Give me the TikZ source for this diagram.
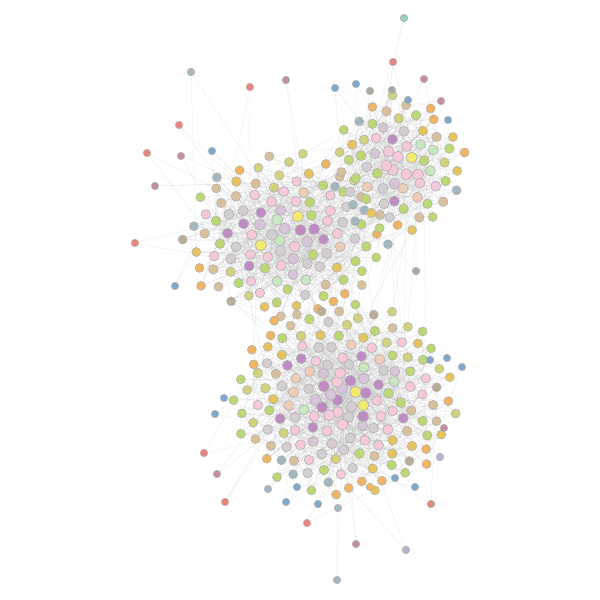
\documentclass[tikz,border=0pt]{standalone}
\usepackage{tikz}
\usetikzlibrary{backgrounds}

\definecolor{pinkn}{HTML}{F6C8DC}
\definecolor{purn}{HTML}{BE8CC2}
\definecolor{lavn}{HTML}{D8C4D8}
\definecolor{greyn}{HTML}{D4CDD2}
\definecolor{mintn}{HTML}{C8E8C0}
\definecolor{yelln}{HTML}{F4EA70}
\definecolor{limen}{HTML}{BCD872}
\definecolor{olivn}{HTML}{D2D27C}
\definecolor{tann}{HTML}{D8C09C}
\definecolor{peachn}{HTML}{EDCDB8}
\definecolor{orangn}{HTML}{F0B462}
\definecolor{goldn}{HTML}{E6C45C}
\definecolor{redn}{HTML}{E8847C}
\definecolor{bluen}{HTML}{80A8CC}
\definecolor{grayn}{HTML}{A8AAA0}
\definecolor{mauven}{HTML}{C48E9C}
\definecolor{tealn}{HTML}{92CEC4}
\definecolor{bluegr}{HTML}{A2B8C0}
\definecolor{lavblue}{HTML}{B4B2D2}
\definecolor{stonen}{HTML}{BAAE98}

\pgfmathdeclarerandomlist{core}{{pinkn}{pinkn}{purn}{purn}{lavn}{lavn}{greyn}{mintn}{yelln}{pinkn}}
\pgfmathdeclarerandomlist{mid}{{pinkn}{pinkn}{pinkn}{lavn}{greyn}{greyn}{peachn}{mintn}{limen}{purn}}
\pgfmathdeclarerandomlist{outer}{{limen}{limen}{limen}{olivn}{tann}{greyn}{pinkn}{goldn}}
\pgfmathdeclarerandomlist{rim}{{limen}{olivn}{orangn}{orangn}{goldn}{tann}{stonen}{bluegr}}

\begin{document}
\begin{tikzpicture}[x=0.02cm, y=-0.02cm,
    vert/.style={circle, draw=black!30, line width=0.35pt, inner sep=0pt},
    lnk/.style={draw=black!25, line width=0.1pt, opacity=0.5}
]
\pgfmathsetseed{7}
\useasboundingbox (0,0) rectangle (600,600);

% clusters laid out on a spiral, core first
\foreach \cl/\cx/\cy/\rx/\ry/\num in {a/285/236/104/82/112, b/398/166/68/70/70, c/343/398/112/100/165} {
  \foreach \k in {1,...,\num} {
    \pgfmathsetmacro{\tk}{\k/\num}
    \pgfmathsetmacro{\rr}{(\tk)^0.58}
    \pgfmathsetmacro{\turn}{\k*0.381966}
    \pgfmathsetmacro{\angl}{360*(\turn-floor(\turn))}
    \pgfmathsetmacro{\px}{\cx+\rx*\rr*cos(\angl)+2.5*rand}
    \pgfmathsetmacro{\py}{\cy+\ry*\rr*sin(\angl)+2.5*rand}
    \ifdim\tk pt<0.12pt \pgfmathrandomitem{\col}{core}\def\sz{0.22cm}\else
    \ifdim\tk pt<0.42pt \pgfmathrandomitem{\col}{mid}\def\sz{0.2cm}\else
    \ifdim\tk pt<0.72pt \pgfmathrandomitem{\col}{outer}\def\sz{0.19cm}\else
    \pgfmathrandomitem{\col}{rim}\def\sz{0.18cm}\fi\fi\fi
    \node[vert, fill=\col, minimum size=\sz] (\cl\k) at (\px,\py) {};
  }
}

% links inside clusters
\begin{scope}[on background layer]
\foreach \cl/\num in {a/112, b/70, c/165} {
  \foreach \k in {1,...,\num} {
    \foreach \e in {1,...,5} {
      \pgfmathtruncatemacro{\jn}{min(\num,1+floor(\num*rnd*(0.35+0.65*rnd)))}
      \ifnum\jn=\k\else \draw[lnk] (\cl\k) -- (\cl\jn);\fi
    }
  }
}
% links between clusters
\foreach \ca/\na/\cb/\nb/\cnt in {a/112/b/70/80, a/112/c/165/30, b/70/c/165/20} {
  \foreach \e in {1,...,\cnt} {
    \pgfmathtruncatemacro{\ia}{min(\na,1+floor(\na*rnd))}
    \pgfmathtruncatemacro{\ib}{min(\nb,1+floor(\nb*rnd))}
    \draw[lnk] (\ca\ia) -- (\cb\ib);
  }
}
\end{scope}

% loose vertices round the edge
\foreach \ox/\oy/\col/\cl/\num [count=\o] in {
    404/18/tealn/b/70, 191/72/bluegr/a/112, 250/87/redn/a/112, 286/80/mauven/a/112,
    335/88/bluen/b/70, 356/84/bluen/b/70, 370/91/grayn/b/70, 393/62/redn/b/70,
    392/90/grayn/b/70, 424/79/mauven/b/70, 408/100/bluen/b/70, 441/101/mauven/b/70,
    448/120/bluen/b/70, 179/125/redn/a/112, 147/153/redn/a/112, 155/186/mauven/a/112,
    181/156/mauven/a/112, 212/151/bluen/a/112, 135/243/redn/a/112, 175/286/bluen/a/112,
    416/271/grayn/b/70, 462/367/bluen/c/165, 447/358/bluen/c/165, 430/360/bluen/c/165,
    215/414/bluen/c/165, 224/398/bluen/c/165, 204/453/redn/c/165, 217/474/mauven/c/165,
    225/502/redn/c/165, 307/523/redn/c/165, 337/580/bluegr/c/165, 356/544/mauven/c/165,
    406/550/lavblue/c/165, 431/504/redn/c/165, 444/428/mauven/c/165, 440/457/lavblue/c/165,
    415/487/bluen/c/165, 268/489/bluegr/c/165, 286/502/bluen/c/165, 318/504/bluen/c/165,
    338/508/bluegr/c/165, 297/487/bluen/c/165, 395/478/bluen/c/165, 370/487/orangn/c/165} {
  \node[vert, fill=\col, minimum size=0.15cm] (o\o) at (\ox,\oy) {};
  \begin{scope}[on background layer]
    \foreach \e in {1,2} {
      \pgfmathtruncatemacro{\jn}{min(\num,1+floor(\num*rnd))}
      \draw[lnk] (o\o) -- (\cl\jn);
    }
  \end{scope}
}
\end{tikzpicture}
\end{document}
